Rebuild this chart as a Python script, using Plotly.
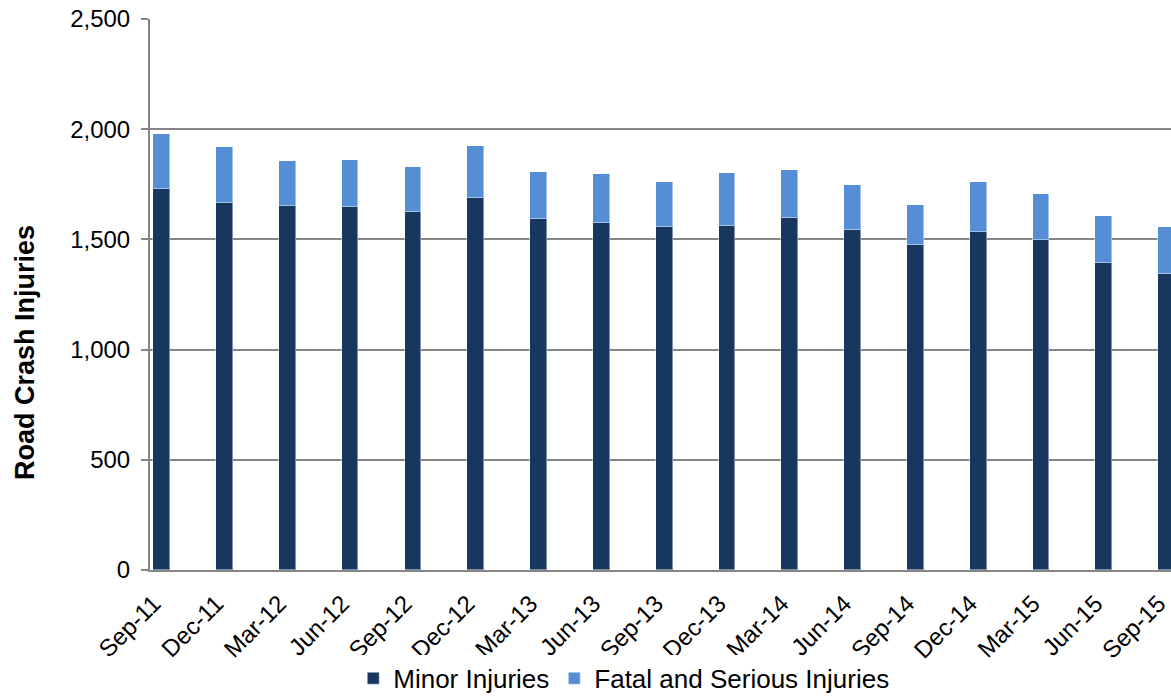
import plotly.graph_objects as go

quarters = ["Sep-11", "Dec-11", "Mar-12", "Jun-12", "Sep-12", "Dec-12", "Mar-13", "Jun-13",
            "Sep-13", "Dec-13", "Mar-14", "Jun-14", "Sep-14", "Dec-14", "Mar-15", "Jun-15", "Sep-15"]
minor_injuries = [1729, 1666, 1652, 1646, 1625, 1688, 1593, 1574, 1557, 1559, 1598, 1543,
                  1475, 1534, 1498, 1394, 1344]
fatal_serious = [251, 251, 206, 216, 204, 234, 213, 225, 205, 244, 217, 202,
                 180, 225, 210, 210, 212]
y_ticks = [0, 500, 1000, 1500, 2000, 2500]
y_tick_labels = ["0", "500", "1,000", "1,500", "2,000", "2,500"]

FONT = "Liberation Sans, Arial, sans-serif"

fig = go.Figure()
fig.add_trace(go.Bar(
    x=quarters, y=minor_injuries, name="Minor Injuries",
    marker=dict(color="#17375E", line=dict(color="rgba(255,255,255,0.45)", width=1)),
    width=0.266,
))
fig.add_trace(go.Bar(
    x=quarters, y=fatal_serious, name="Fatal and Serious Injuries",
    marker=dict(color="#558ED5", line=dict(color="rgba(255,255,255,0.45)", width=1)),
    width=0.266,
))

fig.update_layout(
    barmode="stack",
    width=1171, height=700,
    margin=dict(l=150, r=0, t=19, b=130, autoexpand=False),
    plot_bgcolor="white", paper_bgcolor="white",
    font=dict(family=FONT, size=24, color="#000000"),
    showlegend=True,
    legend=dict(orientation="h", x=0.464, xanchor="center", yref="container", y=0.031,
                yanchor="middle", font=dict(size=26), itemwidth=30, traceorder="normal"),
    bargap=0,
)
fig.update_xaxes(
    type="category", range=[-0.186, 16.07], tickangle=-45, automargin=False,
    showline=True, linecolor="#868686", linewidth=2, ticks="",
    tickfont=dict(size=24), showgrid=False, ticklabelstandoff=8, ticklabelshift=-8,
)
fig.update_yaxes(
    range=[0, 2500], tickvals=y_ticks, ticktext=y_tick_labels, automargin=False,
    showline=True, linecolor="#868686", linewidth=2,
    ticks="outside", ticklen=7, tickcolor="#868686", tickwidth=2,
    showgrid=True, gridcolor="#868686", gridwidth=2, zeroline=False,
    tickfont=dict(size=24), ticklabelstandoff=6,
)
fig.add_annotation(
    text="<b>Road Crash Injuries</b>", textangle=-90,
    xref="paper", yref="paper", x=-0.1224, y=0.394,
    xanchor="center", yanchor="middle", showarrow=False,
    font=dict(size=27, family=FONT, color="#000000"),
)

fig.write_html("out.html", config={"displayModeBar": False},
               post_script="document.body.style.margin='0px';")
